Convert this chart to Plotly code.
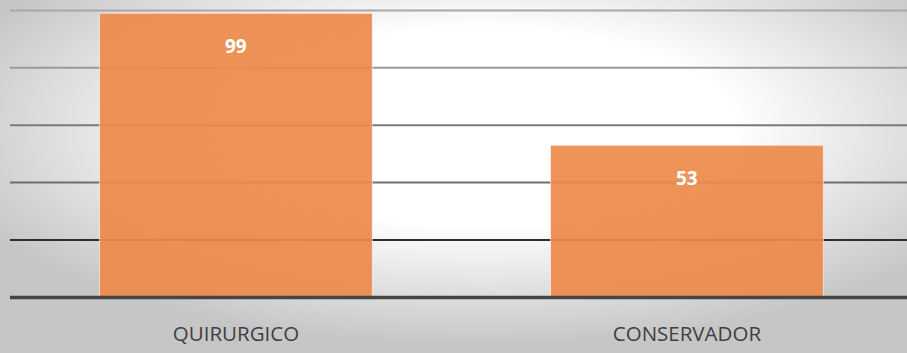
import base64
import plotly.graph_objects as go

categories = ["QUIRURGICO", "CONSERVADOR"]
values = [99, 53]
grid_values = [20, 40, 60, 80, 100]
grid_colors = ["#2e2e2e", "#6e6e6e", "#7a7a7a", "#9a9a9a", "#a8a8a8"]

W, H = 907, 353
ML, MR, MT, MB = 10, 0, 9, 53
PW, PH = W - ML - MR, H - MT - MB

svg = f'''<svg xmlns="http://www.w3.org/2000/svg" width="{W}" height="{H}">
<defs><radialGradient id="g" cx="0.53" cy="0.36" r="0.62">
<stop offset="0" stop-color="#ffffff"/><stop offset="0.45" stop-color="#ffffff"/>
<stop offset="1" stop-color="#c6c6c6"/></radialGradient></defs>
<rect width="{W}" height="{H}" fill="url(#g)"/></svg>'''
bg = "data:image/svg+xml;base64," + base64.b64encode(svg.encode()).decode()

fig = go.Figure()
fig.add_trace(go.Bar(
    x=categories, y=values, width=0.605,
    marker=dict(color="#ED8B4B", opacity=0.93,
                line=dict(color="rgba(255,255,255,0.6)", width=1)),
    hoverinfo="skip",
))

for c, v in zip(categories, values):
    fig.add_annotation(x=c, y=v, text=str(v), showarrow=False, yshift=-33,
                       font=dict(family="Open Sans", size=19, color="white", weight="bold"))

for gv, gc in zip(grid_values, grid_colors):
    fig.add_shape(type="line", xref="paper", x0=0, x1=1, yref="y", y0=gv, y1=gv,
                  line=dict(color=gc, width=2), layer="below")
fig.add_shape(type="line", xref="paper", x0=0, x1=1, yref="y", y0=0, y1=0,
              line=dict(color="#454545", width=3.5), layer="above")

fig.add_layout_image(dict(source=bg, xref="paper", yref="paper",
                          x=-ML / PW, y=1 + MT / PH, sizex=W / PW, sizey=H / PH,
                          sizing="stretch", xanchor="left", yanchor="top", layer="below"))

fig.update_layout(
    width=W, height=H, margin=dict(l=ML, r=MR, t=MT, b=MB),
    paper_bgcolor="rgba(0,0,0,0)", plot_bgcolor="rgba(0,0,0,0)",
    showlegend=False,
    xaxis=dict(range=[-0.501, 1.488], showgrid=False, zeroline=False, showline=False,
               ticks="", ticklabelstandoff=19,
               tickfont=dict(family="Open Sans", size=20.5, color="#404040")),
    yaxis=dict(range=[-0.9, 100.5], showgrid=False, zeroline=False, showticklabels=False,
               showline=False),
)
fig.write_html("out.html")
